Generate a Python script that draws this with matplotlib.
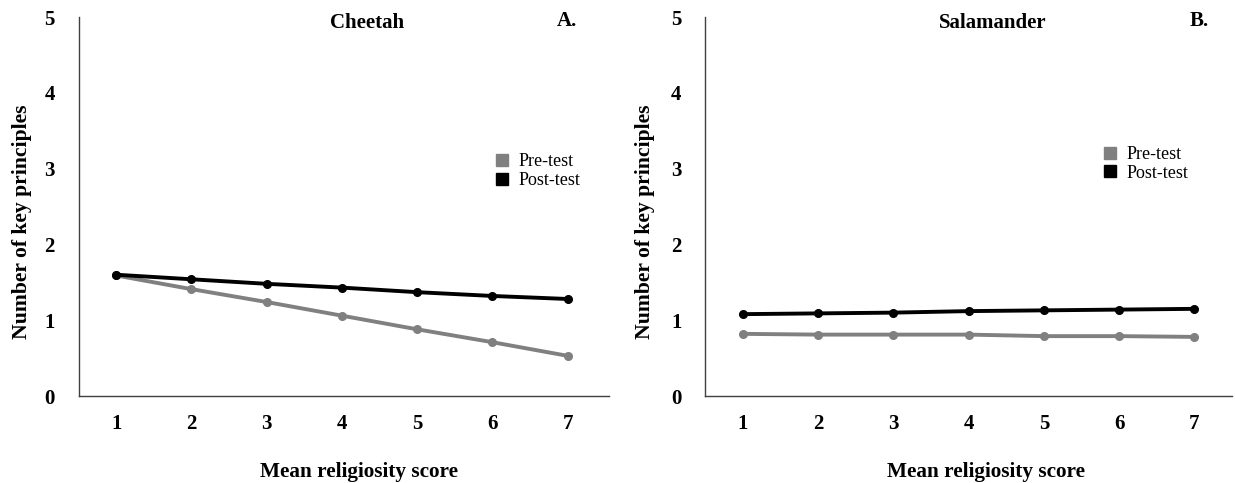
import matplotlib

matplotlib.use("Agg")
import matplotlib.pyplot as plt
from matplotlib.lines import Line2D

plt.rcParams["font.family"] = ["Liberation Serif", "DejaVu Serif"]

# religiosity score (x) and mean number of key principles per panel
scores = [1, 2, 3, 4, 5, 6, 7]
cheetah_pre = [1.59, 1.41, 1.24, 1.06, 0.88, 0.71, 0.53]
cheetah_post = [1.60, 1.54, 1.48, 1.43, 1.37, 1.32, 1.28]
salamander_pre = [0.82, 0.81, 0.81, 0.81, 0.79, 0.79, 0.78]
salamander_post = [1.08, 1.09, 1.10, 1.12, 1.13, 1.14, 1.15]

panels = [
    ("Cheetah", "A.", cheetah_pre, cheetah_post),
    ("Salamander", "B.", salamander_pre, salamander_post),
]

GREY = "#808080"
BLACK = "#000000"

fig = plt.figure(figsize=(12.35, 4.83), dpi=100)
rects = [
    [0.0636, 0.1801, 0.4295, 0.7847],
    [0.5709, 0.1801, 0.4267, 0.7847],
]
xlims = [(0.5, 7.55), (0.5, 7.5)]
title_x = [0.544, 0.546]
letter_x = [0.921, 0.937]
leg_pos = [(0.781, 0.64), (0.751, 0.66)]
ylab_x = [-0.088, -0.095]
xlab_x = [0.529, 0.533]

for i, (name, letter, pre, post) in enumerate(panels):
    ax = fig.add_axes(rects[i])
    ax.plot(scores, pre, color=GREY, lw=2.8, marker="o", ms=5.5)
    ax.plot(scores, post, color=BLACK, lw=2.8, marker="o", ms=5.5)

    ax.set_xlim(*xlims[i])
    ax.set_ylim(0, 5)
    ax.set_xticks(scores)
    ax.set_yticks(range(6))
    ax.tick_params(length=0, labelsize=15)
    ax.tick_params(axis="x", pad=13)
    ax.tick_params(axis="y", pad=17)
    for lab in ax.get_xticklabels() + ax.get_yticklabels():
        lab.set_fontweight("bold")

    for s in ("top", "right"):
        ax.spines[s].set_visible(False)
    for s in ("left", "bottom"):
        ax.spines[s].set_color("#404040")
        ax.spines[s].set_linewidth(1.0)

    ax.set_xlabel("Mean religiosity score", fontsize=15.3, fontweight="bold")
    ax.set_ylabel("Number of key principles", fontsize=15.6,
                  fontweight="bold")
    ax.xaxis.set_label_coords(xlab_x[i], -0.174)
    ax.yaxis.set_label_coords(ylab_x[i], 0.46)

    ax.text(title_x[i], 0.984, name, transform=ax.transAxes, ha="center",
            va="center", fontsize=15, fontweight="bold")
    ax.text(letter_x[i], 0.99, letter, transform=ax.transAxes, ha="center",
            va="center", fontsize=15, fontweight="bold")

    handles = [
        Line2D([], [], ls="none", marker="s", ms=8, color=GREY),
        Line2D([], [], ls="none", marker="s", ms=8, color=BLACK),
    ]
    ax.legend(handles, ["Pre-test", "Post-test"], loc="upper left",
              bbox_to_anchor=leg_pos[i], frameon=False, fontsize=13,
              handlelength=1.0, handletextpad=0.4, labelspacing=0.1,
              borderpad=0, borderaxespad=0)

fig.savefig("out.png", dpi=100)
